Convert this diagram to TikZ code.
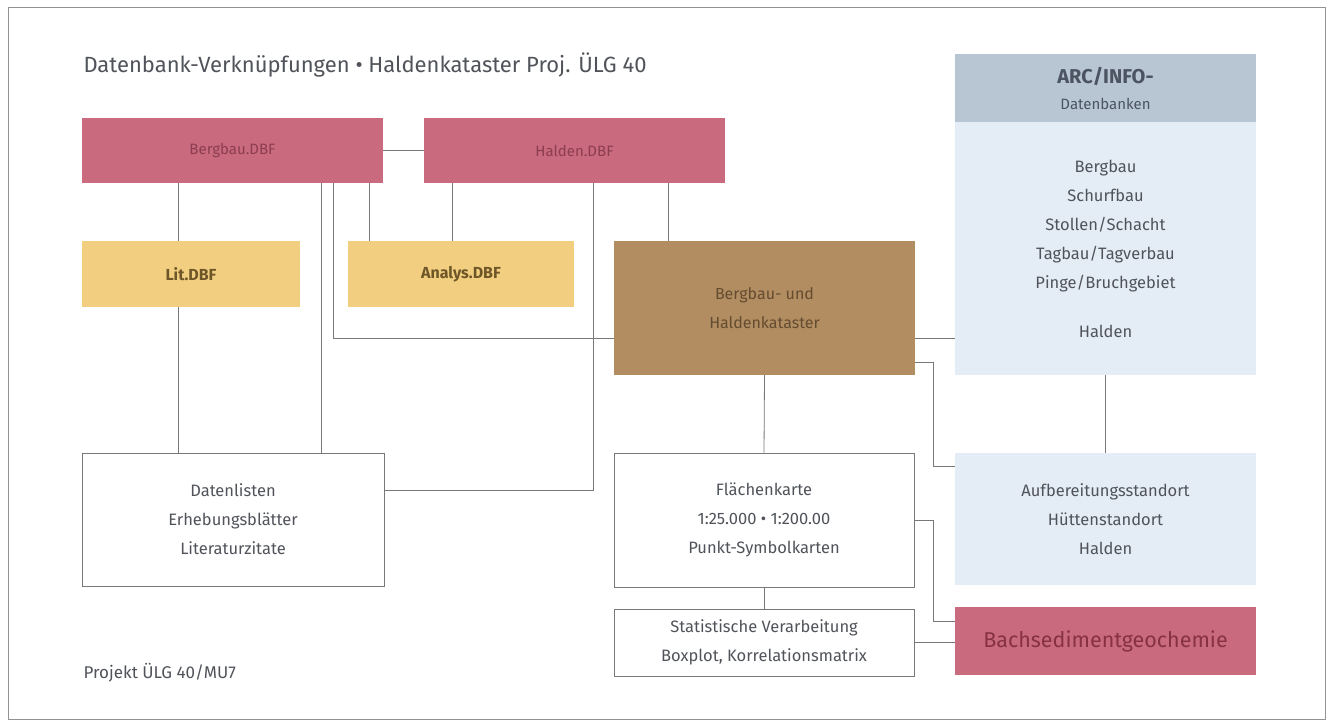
\documentclass[tikz,border=0pt]{standalone}
\usepackage{fontspec}
\setmainfont{Fira Sans}
\usetikzlibrary{calc}
\definecolor{pinkbox}{RGB}{201,106,126}
\definecolor{pinktext}{RGB}{140,62,80}
\definecolor{yellowbox}{RGB}{241,206,128}
\definecolor{yellowtext}{RGB}{110,86,40}
\definecolor{brownbox}{RGB}{178,141,98}
\definecolor{browntext}{RGB}{100,76,48}
\definecolor{headbox}{RGB}{184,198,212}
\definecolor{headtext}{RGB}{75,84,96}
\definecolor{lightbox}{RGB}{228,237,246}
\definecolor{bodytext}{RGB}{80,84,90}
\definecolor{linecol}{RGB}{120,120,120}
\definecolor{bachtext}{RGB}{135,50,65}
\tikzset{
  box/.style={rectangle, inner sep=0pt, align=center, font=\fontsize{16.5}{29}\selectfont},
  pinkbx/.style={box, fill=pinkbox, text=pinktext, font=\fontsize{15}{26}\selectfont},
  yellowbx/.style={box, fill=yellowbox, text=yellowtext, font=\fontsize{16}{26}\selectfont\bfseries},
  brownbx/.style={box, fill=brownbox, text=browntext, font=\fontsize{16}{29}\selectfont},
  lightbx/.style={box, fill=lightbox, text=bodytext},
  whitebx/.style={box, draw=linecol, line width=1pt, fill=white, text=bodytext},
  conn/.style={draw=linecol, line width=0.8pt},
}
\begin{document}
\begin{tikzpicture}[x=1pt,y=-1pt]
\useasboundingbox (0,0) rectangle (1332,725);
\fill[white] (0,0) rectangle (1332,725);
\draw[linecol!80, line width=1pt] (8,8) rectangle (1325,719);

\node[anchor=base west, text=bodytext, font=\fontsize{22}{26}\selectfont] (title) at (80,73) {Datenbank-Verknüpfungen • Haldenkataster Proj. ÜLG 40};
\node[anchor=base west, text=bodytext, font=\fontsize{17}{20}\selectfont] (proj) at (80,678) {Projekt ÜLG 40/MU7};

% boxes
\node[pinkbx, minimum width=301, minimum height=65] (berg) at (232.5,150.5) {Bergbau.DBF};
\node[pinkbx, minimum width=301, minimum height=65] (hald) at (574.5,150.5) {Halden.DBF};
\node[yellowbx, minimum width=218, minimum height=66] (lit) at (191,274) {Lit.DBF};
\node[yellowbx, minimum width=226, minimum height=66] (analys) at (461,274) {Analys.DBF};
\node[brownbx, minimum width=301, minimum height=134] (kat) at (764.5,308) {Bergbau- und\\Haldenkataster};
\node[box, fill=headbox, text=headtext, minimum width=301, minimum height=68] (arch) at (1105.5,88)
  {{\fontsize{20}{26}\selectfont\bfseries ARC/INFO-}\\[-3pt]{\fontsize{15}{18}\selectfont Datenbanken}};
\node[lightbx, minimum width=301, minimum height=253] (arcb) at (1105.5,248.5)
  {Bergbau\\Schurfbau\\Stollen/Schacht\\Tagbau/Tagverbau\\Pinge/Bruchgebiet\\[20pt]Halden};
\node[lightbx, minimum width=301, minimum height=132] (aufb) at (1105.5,519)
  {Aufbereitungsstandort\\Hüttenstandort\\Halden};
\node[box, fill=pinkbox, text=bachtext, minimum width=301, minimum height=68, font=\fontsize{21.5}{26}\selectfont] (bach) at (1105.5,641) {Bachsedimentgeochemie};
\node[whitebx, minimum width=302, minimum height=133] (daten) at (233,519.5)
  {Datenlisten\\Erhebungsblätter\\Literaturzitate};
\node[whitebx, minimum width=300, minimum height=134] (flae) at (764,520)
  {Flächenkarte\\1:25.000 • 1:200.00\\Punkt-Symbolkarten};
\node[whitebx, minimum width=300, minimum height=67] (stat) at (764,642.5)
  {Statistische Verarbeitung\\Boxplot, Korrelationsmatrix};

% helper coordinates
\coordinate (c178) at (178,0);
\coordinate (c321) at (321,0);
\coordinate (c333) at (333,0);
\coordinate (c369) at (369,0);
\coordinate (c452) at (452,0);
\coordinate (c593) at (593,0);
\coordinate (c668) at (668,0);
\coordinate (c933) at (933,0);
\coordinate (c1105) at (1105,0);
\coordinate (y338) at (0,338);
\coordinate (y362) at (0,362);
\coordinate (y466) at (0,466);
\coordinate (y490) at (0,490);
\coordinate (y520) at (0,520);
\coordinate (y621) at (0,621);

% connectors
\draw[conn] (berg.east) -- (hald.west);
\draw[conn] (berg.south -| c178) -- (lit.north -| c178);
\draw[conn] (lit.south -| c178) -- (daten.north -| c178);
\draw[conn] (berg.south -| c321) -- (daten.north -| c321);
\draw[conn] (berg.south -| c333) -- (c333 |- y338) -- (kat.west |- y338);
\draw[conn] (berg.south -| c369) -- (analys.north -| c369);
\draw[conn] (hald.south -| c452) -- (analys.north -| c452);
\draw[conn] (hald.south -| c593) -- (c593 |- y490) -- (daten.east |- y490);
\draw[conn] (hald.south -| c668) -- (kat.north -| c668);
\draw[conn] (kat.east |- y338) -- (arcb.west |- y338);
\draw[conn] (kat.east |- y362) -- (c933 |- y362) -- (c933 |- y466) -- (aufb.west |- y466);
\draw[conn] (arcb.south -| c1105) -- (aufb.north -| c1105);
\draw[conn] (kat.south) -- (flae.north);
\draw[conn] (flae.south) -- (stat.north);
\draw[conn] (flae.east |- y520) -- (c933 |- y520) -- (c933 |- y621) -- (bach.west |- y621);
\draw[conn] (stat.east) -- (bach.west |- stat.east);
\end{tikzpicture}
\end{document}
